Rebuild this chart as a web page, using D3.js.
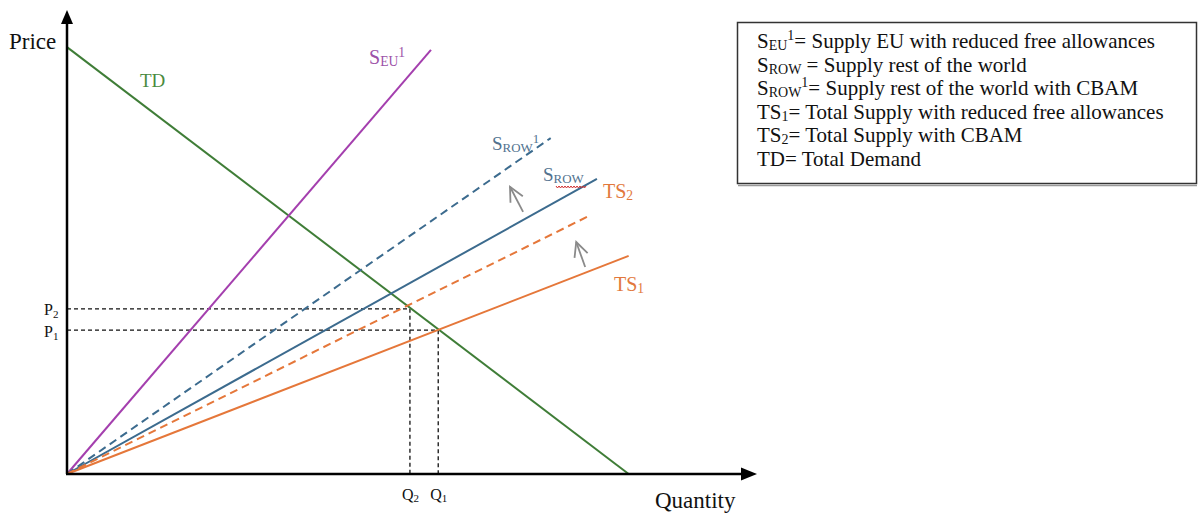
<!DOCTYPE html>
<html><head><meta charset="utf-8">
<script src="https://cdn.jsdelivr.net/npm/d3@7/dist/d3.min.js"></script>
<style>
html,body{margin:0;padding:0;background:#fff;}
svg{display:block;font-family:"Liberation Serif","Times New Roman",serif;}
</style></head>
<body>
<svg id="chart" width="1198" height="513"></svg>
<script>
// ---- data (arbitrary quantity/price units) ----
const lineNames = ["TD", "SEU1", "SROW1", "SROW", "TS2", "TS1"];
const lineStart = [[0, 9.20], [0, 0], [0, 0], [0, 0], [0, 0], [0, 0]];
const lineEnd   = [[8.14, 0], [5.275, 9.14], [7.01, 7.24], [7.68, 6.36], [7.59, 5.58], [8.14, 4.70]];
const lineDashed = [false, false, true, false, true, false];
const priceTicks = [3.56, 3.10];          // P2, P1
const priceLabels = ["P2", "P1"];
const quantityTicks = [4.97, 5.38];       // Q2, Q1
const quantityLabels = ["Q2", "Q1"];
const shiftArrowsFrom = [[6.61, 5.65], [7.51, 4.46]];
const shiftArrowsTo   = [[6.42, 6.19], [7.38, 5.00]];
const legendItems = [
  {main:"S", sub:"EU", sup:"1", text:"= Supply EU with reduced free allowances"},
  {main:"S", sub:"ROW", sup:"", text:" = Supply rest of the world"},
  {main:"S", sub:"ROW", sup:"1", text:"= Supply rest of the world with CBAM"},
  {main:"TS", sub:"1", sup:"", text:"= Total Supply with reduced free allowances"},
  {main:"TS", sub:"2", sup:"", text:"= Total Supply with CBAM"},
  {main:"TD", sub:"", sup:"", text:"= Total Demand"}
];

// ---- styles ----
const colors = {TD:"#3f7d37", SEU1:"#a43fae", SROW1:"#3c6b8e", SROW:"#3c6b8e", TS2:"#e5773a", TS1:"#e5773a"};
const labelColors = {TD:"#4a8a3e", SEU1:"#9c52a8", SROW1:"#52728f", SROW:"#52728f", TS2:"#e2783c", TS1:"#e2783c"};

const svg = d3.select("#chart");
const x = d3.scaleLinear().domain([0, 10]).range([67, 757]);
const y = d3.scaleLinear().domain([0, 10]).range([474, 10]);

// guides (dashed P/Q)
const g = svg.append("g");
priceTicks.forEach((p, i) => {
  g.append("line").attr("x1", x(0)).attr("x2", x(quantityTicks[i]))
    .attr("y1", y(p)).attr("y2", y(p))
    .attr("stroke", "#111").attr("stroke-width", 1.3).attr("stroke-dasharray", "4,3");
  g.append("line").attr("x1", x(quantityTicks[i])).attr("x2", x(quantityTicks[i]))
    .attr("y1", y(p)).attr("y2", y(0))
    .attr("stroke", "#111").attr("stroke-width", 1.3).attr("stroke-dasharray", "4,3");
});

// curves
lineNames.forEach((n, i) => {
  g.append("line")
    .attr("x1", x(lineStart[i][0])).attr("y1", y(lineStart[i][1]))
    .attr("x2", x(lineEnd[i][0])).attr("y2", y(lineEnd[i][1]))
    .attr("stroke", colors[n]).attr("stroke-width", 2)
    .attr("stroke-dasharray", lineDashed[i] ? "8,5" : null);
});

// shift arrows
shiftArrowsFrom.forEach((f, i) => {
  const t = shiftArrowsTo[i];
  const x1 = x(f[0]), y1 = y(f[1]), x2 = x(t[0]), y2 = y(t[1]);
  const ang = Math.atan2(y1 - y2, x1 - x2);
  const L = 16, spread = 0.45;
  g.append("line").attr("x1", x1).attr("y1", y1).attr("x2", x2).attr("y2", y2)
    .attr("stroke", "#8a8a8a").attr("stroke-width", 1.8);
  g.append("path")
    .attr("d", `M${x2 + L*Math.cos(ang - spread)},${y2 + L*Math.sin(ang - spread)}L${x2},${y2}L${x2 + L*Math.cos(ang + spread)},${y2 + L*Math.sin(ang + spread)}`)
    .attr("fill", "none").attr("stroke", "#8a8a8a").attr("stroke-width", 1.8);
});

// axes
const ax = svg.append("g");
ax.append("line").attr("x1", x(0)).attr("y1", y(0)).attr("x2", x(0)).attr("y2", y(10) + 12)
  .attr("stroke", "#000").attr("stroke-width", 2.5);
ax.append("path").attr("d", `M${x(0)},${y(10)}L${x(0) - 6},${y(10) + 14}L${x(0) + 6},${y(10) + 14}Z`).attr("fill", "#000");
ax.append("line").attr("x1", x(0) - 1).attr("y1", y(0)).attr("x2", x(10) - 12).attr("y2", y(0))
  .attr("stroke", "#000").attr("stroke-width", 2.5);
ax.append("path").attr("d", `M${x(10)},${y(0)}L${x(10) - 16},${y(0) - 6.5}L${x(10) - 16},${y(0) + 6.5}Z`).attr("fill", "#000");

// axis titles
svg.append("text").attr("x", 9).attr("y", 49).attr("font-size", 23).attr("fill", "#111").text("Price");
svg.append("text").attr("x", 655).attr("y", 508).attr("font-size", 23).attr("fill", "#111").text("Quantity");

// tick labels using d3 axes
const xAxis = d3.axisBottom(x).tickValues(quantityTicks).tickSize(0).tickPadding(0).tickFormat(() => "");
const xa = svg.append("g").attr("transform", `translate(0,${y(0)})`).call(xAxis);
xa.select(".domain").remove();
xa.selectAll(".tick").each(function(d, i) {
  const t = d3.select(this).append("text").attr("y", 26).attr("text-anchor", "middle")
    .attr("font-size", 16).attr("fill", "#111").attr("font-family", "Liberation Serif");
  t.append("tspan").text(quantityLabels[i][0]);
  t.append("tspan").attr("font-size", 11).attr("dy", 2).text(quantityLabels[i].slice(1));
});
const yAxis = d3.axisLeft(y).tickValues(priceTicks).tickSize(0).tickPadding(0).tickFormat(() => "");
const ya = svg.append("g").attr("transform", `translate(${x(0)},0)`).call(yAxis);
ya.select(".domain").remove();
ya.selectAll(".tick").each(function(d, i) {
  const t = d3.select(this).append("text").attr("x", -23).attr("y", 6).attr("text-anchor", "start")
    .attr("font-size", 16).attr("fill", "#111").attr("font-family", "Liberation Serif");
  t.append("tspan").text(priceLabels[i][0]);
  t.append("tspan").attr("font-size", 11).attr("dy", 3).text(priceLabels[i].slice(1));
});

// line labels
function lbl(px, py, main, sub, sup, col, fs) {
  const t = svg.append("text").attr("x", px).attr("y", py).attr("font-size", fs).attr("fill", col);
  t.append("tspan").text(main);
  if (sub) t.append("tspan").attr("font-size", fs * 0.68).attr("dy", 2).text(sub);
  if (sup) t.append("tspan").attr("font-size", fs * 0.68).attr("dy", sub ? -9 : -8).text(sup);
  return t;
}
lbl(140, 87, "TD", "", "", labelColors.TD, 19);
lbl(369, 64, "S", "EU", "1", labelColors.SEU1, 20);
lbl(492, 150, "S", "ROW", "1", labelColors.SROW1, 19);
lbl(543, 181, "S", "ROW", "", labelColors.SROW, 19);
lbl(603, 198, "TS", "2", "", labelColors.TS2, 20);
lbl(614, 291, "TS", "1", "", labelColors.TS1, 20);
// spell-check squiggle under S_ROW
(function() {
  let d = "M556,186";
  for (let k = 0; k < 20; k++) d += `l1.5,${k % 2 ? -2 : 2}`;
  svg.append("path").attr("d", d).attr("fill", "none").attr("stroke", "#d03030").attr("stroke-width", 1);
})();

// legend
const lg = svg.append("g");
lg.append("rect").attr("x", 737.5).attr("y", 22.5).attr("width", 459).attr("height", 161)
  .attr("fill", "#fff").attr("stroke", "#333").attr("stroke-width", 1.5);
lg.append("line").attr("x1", 738).attr("x2", 1197).attr("y1", 185.5).attr("y2", 185.5).attr("stroke", "#999").attr("stroke-width", 1.5);
legendItems.forEach((it, i) => {
  const t = lg.append("text").attr("x", 757).attr("y", 48 + i * 23.5).attr("font-size", 21).attr("fill", "#111");
  t.append("tspan").text(it.main);
  if (it.sub) t.append("tspan").attr("font-size", 14).attr("dy", 2).text(it.sub);
  if (it.sup) t.append("tspan").attr("font-size", 14).attr("dy", it.sub ? -10 : -8).text(it.sup);
  const back = (it.sub ? -2 : 0) + (it.sup ? (it.sub ? 10 : 8) : 0);
  t.append("tspan").attr("dy", back).text(it.text);
});
</script>
</body></html>
